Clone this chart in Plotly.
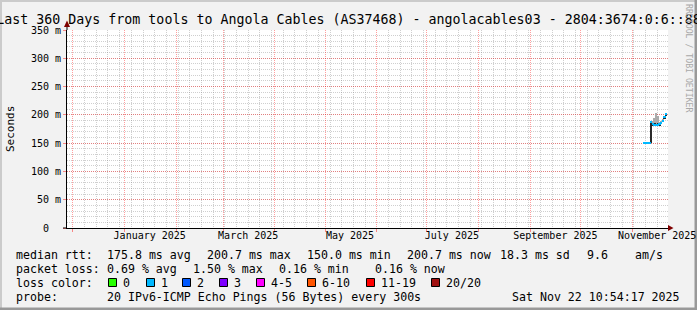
import plotly.graph_objects as go

# ---------------- data ----------------
title_text = "Last 360 Days from tools to Angola Cables (AS37468) - angolacables03 - 2804:3674:0:6::88"
range_start = "2024-11-27 10:54:17"
range_end = "2025-11-22 10:54:17"

y_tickvals = [0, 50, 100, 150, 200, 250, 300, 350]
y_ticktext = ["0\u00a0\u00a0", "50 m", "100 m", "150 m", "200 m", "250 m", "300 m", "350 m"]

month_label_dates = ["2025-01-16", "2025-03-16", "2025-05-16", "2025-07-16", "2025-09-16", "2025-11-16"]
month_labels = ["January 2025", "March 2025", "May 2025", "July 2025", "September 2025", "November 2025"]

days = ["2025-11-%02d 12:00" % d for d in range(8, 22)]
median = [150.3, 150.1, 150.2, 150.0, 188.0, 183.5, 182.5, 181.5, 182.5, 183.0, 185.0, 189.5, 195.5, 200.7]
smoke_lo = [149.5, 149.4, 149.6, 149.5, 150.0, 180.0, 180.5, 179.5, 180.0, 181.0, 183.0, 187.0, 193.0, 199.0]
smoke_hi = [152.0, 151.5, 152.0, 151.5, 190.0, 190.0, 194.0, 204.0, 198.0, 188.0, 190.0, 193.0, 198.0, 202.5]
core_lo = [149.8, 149.7, 149.8, 149.7, 150.2, 181.0, 181.0, 180.5, 181.0, 182.0, 184.0, 188.0, 194.0, 199.5]
core_hi = [151.0, 150.8, 151.0, 150.6, 188.0, 186.0, 185.0, 184.5, 185.0, 185.0, 187.0, 191.0, 197.0, 201.5]

rtt_values = [175.8, 200.7, 150.0, 200.7]
rtt_kinds = ["avg", "max", "min", "now"]
rtt_sd = 18.3
rtt_ams = 9.6
loss_values = [0.69, 1.50, 0.16, 0.16]
loss_kinds = ["avg", "max", "min", "now"]
loss_labels = ["0", "1", "2", "3", "4-5", "6-10", "11-19", "20/20"]
loss_colors = ["#26ff00", "#00b8ff", "#0059ff", "#7e00ff", "#ff00ff", "#ff5500", "#ff0000", "#a01010"]
probe_text = "20 IPv6-ICMP Echo Pings (56 Bytes) every 300s"
stamp_text = "Sat Nov 22 10:54:17 2025"

# ---------------- layout helpers ----------------
W, H = 697, 310
PL, PR, PT, PB = 67, 668, 30, 228
MONO = "DejaVu Sans Mono"


def px(x):
    return (x - PL) / (PR - PL)


def py(y):
    return (PB - y) / (PB - PT)


DAY = 86400000
fig = go.Figure()

# smoke
fig.add_trace(go.Bar(x=days, base=smoke_lo, y=[h - l for h, l in zip(smoke_hi, smoke_lo)],
                     width=DAY, marker=dict(color="#ababab", line=dict(width=0)),
                     showlegend=False, hoverinfo="skip"))
fig.add_trace(go.Bar(x=days, base=core_lo, y=[h - l for h, l in zip(core_hi, core_lo)],
                     width=DAY, marker=dict(color="#2a2a2a", line=dict(width=0)),
                     showlegend=False, hoverinfo="skip"))
# median (thin band coloured by loss)
fig.add_trace(go.Bar(x=days, base=[m - 1.8 for m in median], y=[3.6] * len(median),
                     width=DAY, marker=dict(color=loss_colors[1], line=dict(width=0)),
                     showlegend=False, hoverinfo="skip"))
# carrier for label axis
fig.add_trace(go.Scatter(x=month_label_dates, y=[None] * len(month_label_dates), xaxis="x2",
                         showlegend=False, hoverinfo="skip"))

MGRID = "rgba(255,0,0,0.38)"
GRID = "rgba(128,128,128,0.38)"

fig.update_layout(
    width=W, height=H, autosize=False,
    margin=dict(l=PL, r=W - PR, t=PT, b=H - PB, pad=0, autoexpand=False),
    paper_bgcolor="#f2f2f2", plot_bgcolor="#ffffff",
    barmode="overlay", bargap=0,
    showlegend=False,
    title=dict(text=title_text, x=0.5, xref="container", xanchor="center",
               y=1 - 19.5 / H, yref="container", yanchor="middle", automargin=False,
               font=dict(family=MONO, size=13.3, color="#000")),
    xaxis=dict(type="date", range=[range_start, range_end], fixedrange=True, automargin=False,
               showgrid=True, gridcolor=MGRID, griddash="1px,1px", gridwidth=1,
               tick0="2024-12-01", dtick="M1", showticklabels=False,
               ticks="outside", ticklen=3, tickcolor="rgba(255,0,0,0.45)", tickwidth=1,
               minor=dict(dtick=7 * DAY, tick0="2024-12-01", showgrid=True,
                          gridcolor=GRID, griddash="1px,1px", gridwidth=1, ticks=""),
               showline=True, linecolor="#000", linewidth=1, zeroline=False),
    xaxis2=dict(type="date", range=[range_start, range_end], overlaying="x", side="bottom",
                anchor="y", fixedrange=True, automargin=False,
                showgrid=False, zeroline=False, showline=False,
                tickmode="array", tickvals=month_label_dates, ticktext=month_labels,
                ticks="", tickfont=dict(family=MONO, size=10, color="#000")),
    yaxis=dict(range=[0, 350], fixedrange=True, automargin=False, tickmode="array",
               tickvals=y_tickvals, ticktext=y_ticktext,
               tickfont=dict(family=MONO, size=10, color="#000"),
               showgrid=True, gridcolor=MGRID, griddash="1px,1px", gridwidth=1,
               ticks="outside", ticklen=3, tickcolor="rgba(255,0,0,0.45)",
               minor=dict(dtick=10, showgrid=True, gridcolor=GRID, griddash="1px,1px", ticks=""),
               showline=True, linecolor="#000", linewidth=1, zeroline=False),
)

shapes = []
# frame shading
shapes.append(dict(type="rect", xref="paper", yref="paper", x0=px(0), x1=px(W), y0=py(0), y1=py(2),
                   fillcolor="#cbcbcb", line=dict(width=0), layer="below"))
shapes.append(dict(type="rect", xref="paper", yref="paper", x0=px(0), x1=px(2), y0=py(0), y1=py(H),
                   fillcolor="#cbcbcb", line=dict(width=0), layer="below"))
shapes.append(dict(type="rect", xref="paper", yref="paper", x0=px(0), x1=px(W), y0=py(H - 2.5), y1=py(H),
                   fillcolor="#999999", line=dict(width=0), layer="below"))
shapes.append(dict(type="rect", xref="paper", yref="paper", x0=px(W - 2.5), x1=px(W), y0=py(0), y1=py(H),
                   fillcolor="#999999", line=dict(width=0), layer="below"))
# axis extensions and arrows
shapes.append(dict(type="line", xref="paper", yref="paper", x0=px(PL), x1=px(PL), y0=py(PT), y1=py(24),
                   line=dict(color="#000", width=1)))
shapes.append(dict(type="line", xref="paper", yref="paper", x0=px(63), x1=px(PL), y0=py(PB), y1=py(PB),
                   line=dict(color="#000", width=1)))
shapes.append(dict(type="path", xref="paper", yref="paper",
                   path="M %f,%f L %f,%f L %f,%f Z" % (px(PL - 3), py(27), px(PL + 3), py(27), px(PL), py(20.5)),
                   fillcolor="#7f0000", line=dict(width=0)))
shapes.append(dict(type="path", xref="paper", yref="paper",
                   path="M %f,%f L %f,%f L %f,%f Z" % (px(PR), py(PB - 3), px(PR), py(PB + 3), px(PR + 5.5), py(PB)),
                   fillcolor="#7f0000", line=dict(width=0)))

annotations = []


def text(x, y, s, anchor="left", size=11.6, color="#000", angle=0):
    annotations.append(dict(x=px(x), y=py(y), xref="paper", yref="paper", text=s, showarrow=False,
                            xanchor=anchor, yanchor="middle", textangle=angle, borderpad=0,
                            font=dict(family=MONO, size=size, color=color)))


text(10, 129, "Seconds", anchor="center", size=11, angle=-90)
text(689, 58, "RRDTOOL / TOBI OETIKER", anchor="center", size=8.2, color="#a8a8a8", angle=90)

r1, r2, r3, r4 = 254.8, 268.8, 282.8, 296.8
text(15, r1, "median rtt:")
for xx, v, k in zip([106, 206, 306, 406], rtt_values, rtt_kinds):
    text(xx, r1, "%.1f ms %s" % (v, k))
text(499, r1, "%.1f ms sd" % rtt_sd)
text(586, r1, "%.1f" % rtt_ams)
text(634, r1, "am/s")

text(15, r2, "packet loss:")
for xx, v, k in zip([106, 192, 278, 374], loss_values, loss_kinds):
    text(xx, r2, "%.2f %% %s" % (v, k))

text(15, r3, "loss color:")
sq_x = [108, 146, 182, 219, 256, 307, 366, 431]
for xx, lab, col in zip(sq_x, loss_labels, loss_colors):
    shapes.append(dict(type="rect", xref="paper", yref="paper", x0=px(xx + 0.5), x1=px(xx + 8.5),
                       y0=py(278.5), y1=py(286.5), fillcolor=col, line=dict(color="#000", width=1)))
    text(xx + 14, r3, lab)

text(15, r4, "probe:")
text(106, r4, probe_text)
text(681, r4, stamp_text, anchor="right")

fig.update_layout(shapes=shapes, annotations=annotations)
fig.write_html("out.html")
